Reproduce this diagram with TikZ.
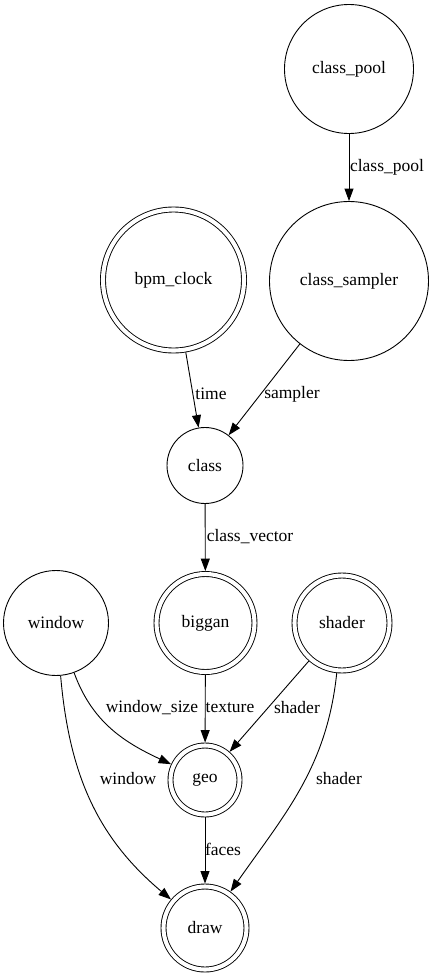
\documentclass[tikz,border=0pt]{standalone}
\usepackage{fontspec}
\setmainfont{Liberation Serif}
\usetikzlibrary{arrows.meta}

\begin{document}
\begin{tikzpicture}[x=1pt, y=-1pt, >={Triangle[length=12.5pt,width=9pt]}, line width=0.9pt,
    every node/.style={font=\fontsize{17.5pt}{20pt}\selectfont},
    stage/.style={circle, draw, inner sep=0pt, minimum size=#1},
    dstage/.style={circle, draw, double, double distance=4.1pt, inner sep=0pt, outer sep=2.95pt, minimum size=#1}]
    \useasboundingbox (0,0) rectangle (434,977);

    % Các nút
    \node[stage=129]  (pool)    at (349,69)    {class\_pool};
    \node[stage=159]  (sampler) at (349,281)   {class\_sampler};
    \node[dstage=141] (clock)   at (173.5,280) {bpm\_clock};
    \node[stage=76]   (class)   at (205,465.5) {class};
    \node[stage=105]  (window)  at (56,623)    {window};
    \node[dstage=98]  (biggan)  at (205.5,623) {biggan};
    \node[dstage=95]  (shader)  at (342,623)   {shader};
    \node[dstage=69]  (geo)     at (205,780)   {geo};
    \node[dstage=83]  (draw)    at (205,928)   {draw};

    % Các cạnh
    \draw[->] (pool) -- (sampler);
    \draw[->] (clock) -- (class);
    \draw[->] (sampler) -- (class);
    \draw[->] (class) -- (biggan);
    \draw[->] (window) to[out=-70, in=155] (geo);
    \draw[->] (window) to[out=-85, in=140] (draw);
    \draw[->] (biggan) -- (geo);
    \draw[->] (shader) -- (geo);
    \draw[->] (shader) to[out=-96, in=55] (draw);
    \draw[->] (geo) -- (draw);

    % Nhãn cạnh
    \node (lpool)    at (387,167) {class\_pool};
    \node (ltime)    at (211,394) {time};
    \node (lsampler) at (292,394) {sampler};
    \node (lvector)  at (250,537) {class\_vector};
    \node (lsize)    at (152,708) {window\_size};
    \node (ltexture) at (230,708) {texture};
    \node (lshader)  at (297,708) {shader};
    \node (lwindow)  at (128,779) {window};
    \node (lshader2) at (339,779) {shader};
    \node (lfaces)   at (223,849) {faces};
\end{tikzpicture}
\end{document}
